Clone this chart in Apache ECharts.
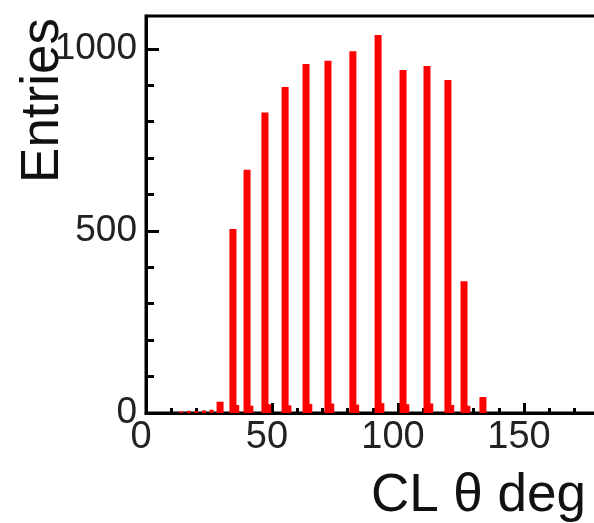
<!DOCTYPE html>
<html>
<head>
<meta charset="utf-8">
<script src="https://cdn.jsdelivr.net/npm/echarts@6/dist/echarts.min.js"></script>
<style>
  html, body { margin: 0; padding: 0; background: #fff; }
  #chart { width: 594px; height: 523px; }
</style>
</head>
<body>
<div id="chart"></div>
<script>
// Cluster polar angle histogram (degrees) and its entries per bin
const binCenters = [29.4, 34.5, 40.1, 47.2, 55.2, 63.5, 72.2, 82.1, 92.1, 102.0, 111.5, 119.8, 126.2, 133.7];
const binEntries = [31, 505, 668, 825, 895, 958, 967, 993, 1038, 942, 953, 914, 362, 44];

// Sparse neighbouring bins with only a few entries
const sideCenters = [14, 17, 20, 23, 26, 36.2, 41.8, 48.9, 56.9, 65.2, 73.9, 83.8, 93.8, 103.7, 113.2, 121.5, 127.9];
const sideEntries = [4, 6, 5, 7, 9, 22, 20, 24, 21, 25, 26, 23, 27, 24, 26, 22, 20];

const yMajorTicks = [0, 500, 1000];
const yMinorTicks = [100, 200, 300, 400, 600, 700, 800, 900];

const xTitle = 'CL θ deg';
const yTitle = 'Entries';

const pairs = (xs, ys) => xs.map((x, i) => [x, ys[i]]);

const font = '"Liberation Sans", Arial, Helvetica, sans-serif';
const chart = echarts.init(document.getElementById('chart'), null, { renderer: 'canvas' });

const axisLineStyle = { color: '#000', width: 3 };
const plain = v => String(v);

chart.setOption({
  animation: false,
  backgroundColor: '#fff',
  grid: {
    left: 146, right: -56, top: 16, bottom: 110,
    show: true, borderColor: '#000', borderWidth: 3,
    outerBoundsMode: 'none', containLabel: false
  },
  xAxis: [{
    type: 'value', min: 0, max: 200, interval: 50,
    axisLine: { show: true, onZero: false, lineStyle: axisLineStyle },
    axisTick: { show: true, inside: true, length: 10, lineStyle: { color: '#000', width: 3 } },
    minorTick: { show: true, splitNumber: 5, length: 5, lineStyle: { color: '#000', width: 3 } },
    splitLine: { show: false },
    axisLabel: {
      show: true, margin: 6, color: '#222', fontSize: 38, fontFamily: font,
      padding: [0, 10, 0, 0], formatter: plain
    }
  }, {
    type: 'value', min: 0, max: 200, show: false,
    axisLine: { show: false }, splitLine: { show: false }
  }],
  yAxis: [{
    type: 'value', min: 0, max: 1090, position: 'left',
    axisLine: { show: true, onZero: false, lineStyle: axisLineStyle },
    axisTick: { show: true, inside: true, length: 13, customValues: yMajorTicks,
      lineStyle: { color: '#000', width: 3 } },
    splitLine: { show: false },
    axisLabel: {
      show: true, margin: 9, color: '#222', fontSize: 37, fontFamily: font,
      customValues: yMajorTicks, padding: [8, 0, 0, 0], formatter: plain
    }
  }, {
    type: 'value', min: 0, max: 1090, position: 'left', offset: 0,
    axisLine: { show: false },
    axisTick: { show: true, inside: true, length: 8, customValues: yMinorTicks,
      lineStyle: { color: '#000', width: 3 } },
    axisLabel: { show: false },
    splitLine: { show: false }
  }],
  series: [{
    type: 'bar', name: 'main bins', xAxisIndex: 0, yAxisIndex: 0,
    barWidth: 7, itemStyle: { color: '#ff0000' },
    data: pairs(binCenters, binEntries)
  }, {
    type: 'bar', name: 'side bins', xAxisIndex: 1, yAxisIndex: 0,
    barWidth: 4, itemStyle: { color: '#ff0000' },
    data: pairs(sideCenters, sideEntries)
  }],
  graphic: [{
    type: 'text', x: 43, y: 18, rotation: Math.PI / 2,
    style: {
      text: yTitle, font: '53px ' + font, fill: '#111',
      textAlign: 'right', textVerticalAlign: 'middle'
    }
  }, {
    type: 'text', x: 586, y: 496,
    style: {
      text: xTitle, font: '53px ' + font, fill: '#111',
      textAlign: 'right', textVerticalAlign: 'middle'
    }
  }]
});
</script>
</body>
</html>
